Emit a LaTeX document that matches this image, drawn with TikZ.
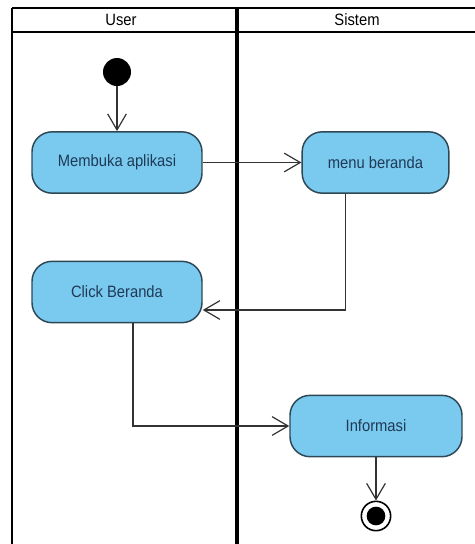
\documentclass[tikz,border=0pt]{standalone}
\usepackage{fontspec}
\setmainfont{Liberation Sans}
\newfontfamily\labelfont[FakeStretch=0.9]{Liberation Sans}
\usetikzlibrary{arrows.meta}
\definecolor{actfill}{HTML}{7AC9EE}
\definecolor{actdraw}{HTML}{2E4755}
\definecolor{acttext}{HTML}{1F3A56}
\definecolor{flowcol}{HTML}{333333}
\tikzset{
  lane/.style={line width=1.6pt, black},
  midlane/.style={line width=2.4pt, black},
  action/.style={draw=actdraw, fill=actfill, line width=1.1pt,
    rounded corners=15pt, minimum height=46pt, inner sep=0pt,
    text=acttext, font=\labelfont\fontsize{12.3pt}{14pt}\selectfont},
  lanetitle/.style={font=\labelfont\fontsize{12.3pt}{14pt}\selectfont, text=black},
  flow/.style={draw=flowcol, line width=0.9pt,
    -{Straight Barb[length=12pt,width=14pt,line width=0.9pt]}},
}
\begin{document}
\begin{tikzpicture}[x=0.75pt, y=-0.75pt]
  \useasboundingbox (0,0) rectangle (475,544);
  % swimlane frame
  \draw[lane] (12,8) -- (477,8);
  \draw[lane] (12,32) -- (477,32);
  \draw[lane] (12,8) -- (12,546);
  \draw[midlane] (237,8) -- (237,546);
  \node[lanetitle] (userlane) at (121,20) {User};
  \node[lanetitle] (sistemlane) at (357,20) {Sistem};

  % activities
  \node[action, minimum width=127.5pt] (buka) at (117,162.5) {Membuka aplikasi};
  \node[action, minimum width=110pt] (menu) at (375.5,162.5) {menu beranda};
  \node[action, minimum width=127.5pt] (click) at (117,292) {Click Beranda};
  \node[action, minimum width=129pt] (info) at (376,426) {Informasi};

  % initial and final states
  \node[circle, fill=black, minimum size=21pt, inner sep=0pt] (start) at (117,72) {};
  \node[circle, draw=black, line width=1.2pt, fill=white, minimum size=22pt, inner sep=0pt] (end) at (376,516) {};
  \node[circle, fill=black, minimum size=14pt, inner sep=0pt] (endin) at (end.center) {};

  % control flows
  \draw[flow] (start) -- (buka);
  \draw[flow] (buka) -- (menu);
  \draw[flow] ([xshift=-30*0.75pt]menu.south) |- ([yshift=-18*0.75pt]click.east);
  \draw[flow] ([xshift=16*0.75pt]click.south) |- (info.west);
  \draw[flow] (info) -- (end);
\end{tikzpicture}
\end{document}
